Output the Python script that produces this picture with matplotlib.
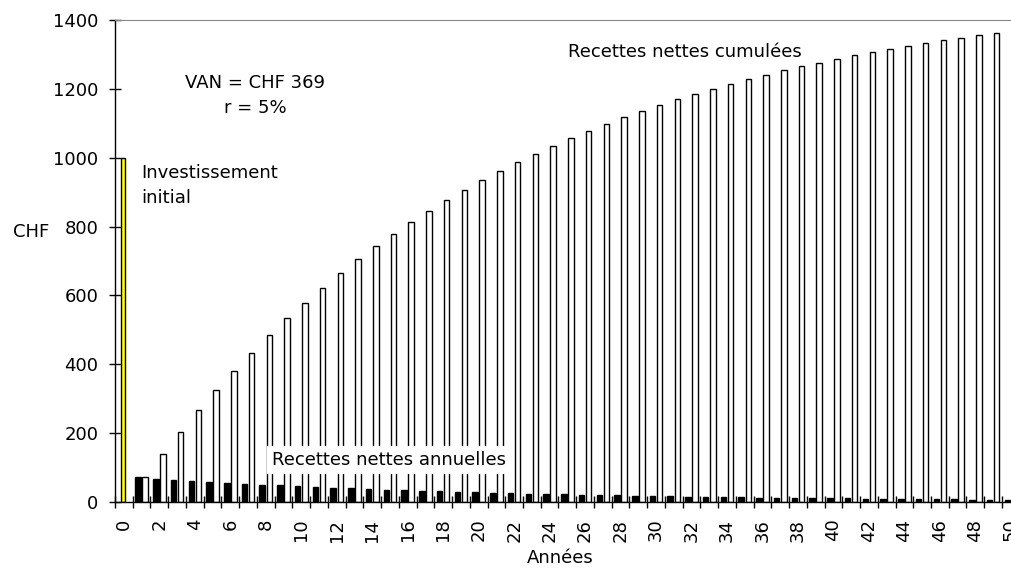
import matplotlib
matplotlib.use("Agg")
import matplotlib.pyplot as plt
import numpy as np

plt.rcParams['font.family'] = ['DejaVu Sans']
fs = 13

# Données (CHF)
annees = list(range(0, 51))
investissement = [1000]  # année 0
recettes_annuelles = [71.4, 68.0, 64.8, 61.7, 58.8, 56.0, 53.3, 50.8, 48.3, 46.0,
                      43.9, 41.8, 39.8, 37.9, 36.1, 34.4, 32.7, 31.2, 29.7, 28.3,
                      26.9, 25.6, 24.4, 23.3, 22.1, 21.1, 20.1, 19.1, 18.2, 17.4,
                      16.5, 15.7, 15.0, 14.3, 13.6, 13.0, 12.3, 11.8, 11.2, 10.7,
                      10.2, 9.7, 9.2, 8.8, 8.4, 8.0, 7.6, 7.2, 6.9, 6.5]
recettes_cumulees = [71.4, 139.4, 204.2, 265.9, 324.7, 380.7, 434.0, 484.8, 533.1, 579.1,
                     623.0, 664.8, 704.6, 742.5, 778.6, 813.0, 845.7, 876.9, 906.6, 934.9,
                     961.8, 987.4, 1011.8, 1035.1, 1057.2, 1078.3, 1098.4, 1117.5, 1135.7, 1153.1,
                     1169.6, 1185.3, 1200.3, 1214.6, 1228.2, 1241.2, 1253.5, 1265.3, 1276.5, 1287.2,
                     1297.4, 1307.1, 1316.3, 1325.1, 1333.5, 1341.5, 1349.1, 1356.3, 1363.2, 1369.7]
etiquettes_x = [str(a) for a in range(0, 51, 2)]

fig = plt.figure(figsize=(10.11, 5.69), dpi=100)
ax = fig.add_axes([115 / 1011, 67 / 569, 904.7 / 1011, 482 / 569])

x = np.array(annees[1:])
ax.bar([annees[0] - 0.03], investissement, width=0.21, color='#FFFF00',
       edgecolor='black', linewidth=1)
ax.bar(x - 0.2, recettes_annuelles, width=0.31, color='black',
       edgecolor='black', linewidth=1)
ax.bar(x + 0.2, recettes_cumulees, width=0.31, color='white',
       edgecolor='black', linewidth=1)

ax.set_xlim(-0.5, 50.5)
ax.set_ylim(0, 1400)
ax.set_yticks(np.arange(0, 1401, 200))
ax.set_xticks(range(0, 51, 2))
ax.set_xticklabels(etiquettes_x, rotation=90, fontsize=fs)
ax.set_xticks(np.arange(-0.5, 51, 1), minor=True)
ax.tick_params(axis='x', which='major', length=0, pad=12)
ax.tick_params(axis='x', which='minor', direction='inout', length=8, width=1)
ax.tick_params(axis='y', direction='inout', length=8, width=1, labelsize=fs, pad=8)

ax.spines['right'].set_visible(False)
ax.spines['top'].set_color('#888888')
for s in ['left', 'bottom']:
    ax.spines[s].set_linewidth(1)

fig.text(31 / 1011, 1 - 232 / 569, 'CHF', ha='center', va='center', fontsize=fs)
fig.text(560 / 1011, 1 - 558 / 569, 'Années', ha='center', va='center', fontsize=fs)

ax.text(7.4, 1182, 'VAN = CHF 369\nr = 5%', ha='center', va='center',
        fontsize=fs, linespacing=1.5)
ax.text(0.96, 919, 'Investissement\ninitial', ha='left', va='center',
        fontsize=fs, linespacing=1.5)
ax.text(25.05, 1307, 'Recettes nettes cumulées', ha='left', va='center', fontsize=fs)
ax.text(8.35, 122, 'Recettes nettes annuelles', ha='left', va='center', fontsize=fs,
        bbox=dict(boxstyle='square,pad=0.3', facecolor='white', edgecolor='none'))

fig.savefig('out.png', dpi=100)
